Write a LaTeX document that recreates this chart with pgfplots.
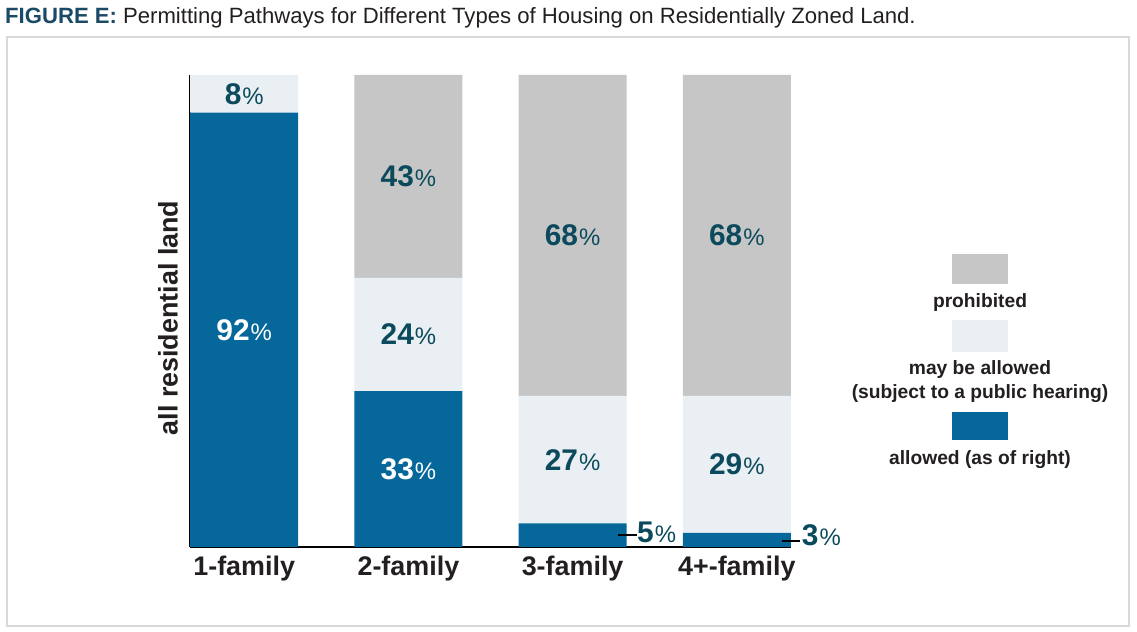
\documentclass[border=0pt]{standalone}
\usepackage{pgfplots}
\pgfplotsset{compat=1.18}
\usepackage{fontspec}
\setmainfont{Liberation Sans}
\definecolor{cblue}{HTML}{05679A}
\definecolor{clight}{HTML}{E9EFF2}
\definecolor{cgray}{HTML}{C6C6C6}
\definecolor{cteal}{HTML}{0B4A5C}
\definecolor{ctext}{HTML}{231F20}
\definecolor{cframe}{HTML}{D9D9D9}
\definecolor{ctitle}{HTML}{1B4A66}
% bold digits, lighter percent sign
\newcommand\pct[1]{{\fontsize{30}{32}\selectfont\bfseries #1}\kern1bp{\fontsize{24}{25}\selectfont\%}}
\tikzset{lbl/.style={text=cteal, inner sep=0}}
\begin{document}
\begin{tikzpicture}[x=1bp,y=1bp]
\path (0,0) rectangle (1137,632);
\draw[cframe, line width=2bp] (7,6) rectangle (1129,595);
\node[anchor=base west, inner sep=0, font=\fontsize{22.2}{24}\selectfont, text=ctext] at (5,608)
  {\textcolor{ctitle}{\bfseries FIGURE E:} Permitting Pathways for Different Types of Housing on Residentially Zoned Land.};
\node[rotate=90, font=\fontsize{27}{28}\selectfont\bfseries, text=ctext] at (168,314) {all residential land};
% legend
\fill[cgray] (952,348) rectangle (1008,378);
\fill[clight] (952,280) rectangle (1008,312);
\fill[cblue] (952,192) rectangle (1008,220);
\tikzset{leg/.style={anchor=base, inner sep=0, font=\fontsize{19.3}{20}\selectfont\bfseries, text=ctext}}
\node[leg] at (980,324.5) {prohibited};
\node[leg] at (980,257.5) {may be allowed};
\node[leg] at (980,233.5) {(subject to a public hearing)};
\node[leg] at (980,167.5) {allowed (as of right)};
\begin{axis}[
  at={(190bp,85bp)}, anchor=south west,
  scale only axis, width=601bp, height=472bp,
  xmin=-0.33, xmax=3.33, ymin=0, ymax=100,
  ybar stacked, bar width=0.657,
  axis x line=bottom, axis y line=left,
  axis line style={-, black, line width=1.5bp},
  xtick=data, xticklabels={1-family,2-family,3-family,4+-family},
  ytick=\empty, major tick length=0pt,
  xticklabel style={font=\fontsize{27}{28}\selectfont\bfseries, text=ctext, yshift=-5bp},
  clip=false,
]
\addplot[fill=cblue, draw=none] coordinates {(0,92) (1,33) (2,5) (3,3)};
\addplot[fill=clight, draw=none] coordinates {(0,8) (1,24) (2,27) (3,29)};
\addplot[fill=cgray, draw=none] coordinates {(0,0) (1,43) (2,68) (3,68)};
% label anchors, drawn after the axis so they sit above the bars
\coordinate (a8) at (axis cs:0,96);
\coordinate (a92) at (axis cs:0,46);
\coordinate (b43) at (axis cs:1,78.5);
\coordinate (b24) at (axis cs:1,45);
\coordinate (b33) at (axis cs:1,16.5);
\coordinate (c68) at (axis cs:2,66);
\coordinate (c27) at (axis cs:2,18.5);
\coordinate (d68) at (axis cs:3,66);
\coordinate (d29) at (axis cs:3,17.5);
\coordinate (c5a) at (axis cs:2.277,2.54);
\coordinate (c5b) at (axis cs:2.392,2.54);
\coordinate (c5) at (axis cs:2.392,3.07);
\coordinate (d3a) at (axis cs:3.275,1.27);
\coordinate (d3b) at (axis cs:3.385,1.27);
\coordinate (d3) at (axis cs:3.395,2.54);
\end{axis}
\node[lbl] at (a8) {\pct{8}};
\node[lbl, text=white] at (a92) {\pct{92}};
\node[lbl] at (b43) {\pct{43}};
\node[lbl] at (b24) {\pct{24}};
\node[lbl, text=white] at (b33) {\pct{33}};
\node[lbl] at (c68) {\pct{68}};
\node[lbl] at (c27) {\pct{27}};
\node[lbl] at (d68) {\pct{68}};
\node[lbl] at (d29) {\pct{29}};
\draw[black, line width=1.5bp] (c5a) -- (c5b);
\node[lbl, anchor=west] at (c5) {\pct{5}};
\draw[black, line width=1.5bp] (d3a) -- (d3b);
\node[lbl, anchor=west] at (d3) {\pct{3}};
\end{tikzpicture}
\end{document}
